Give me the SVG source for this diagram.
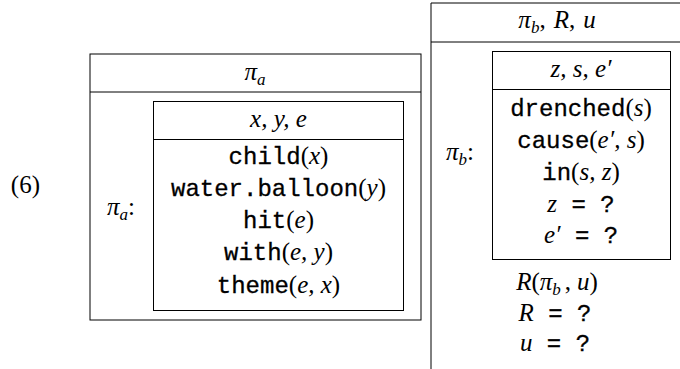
<svg xmlns="http://www.w3.org/2000/svg" width="680" height="369" viewBox="0 0 680 369">
<style>
.outer{fill:none;stroke:#000;stroke-width:1}
.inner{fill:none;stroke:#000;stroke-width:1}
text{font-family:"Liberation Serif",serif;font-size:25px;fill:#000}
.c{text-anchor:middle}
.i{font-style:italic}
.m{font-family:"Liberation Mono",monospace;font-size:24px;stroke:#000;stroke-width:0.3}
.s{font-size:17px;font-style:italic}
</style>
<rect width="680" height="369" fill="#fff"/>
<g id="label">
<text x="40" y="193" text-anchor="end">(6)</text>
</g>
<g id="drs-a">
<rect class="outer" x="90" y="54" width="331" height="266"/>
<line class="outer" x1="90" y1="92" x2="421" y2="92"/>
<text class="c" x="255" y="80"><tspan class="i">π</tspan><tspan class="s" dy="5">a</tspan></text>
<text x="107" y="215"><tspan class="i">π</tspan><tspan class="s" dy="5">a</tspan><tspan dy="-5">:</tspan></text>
</g>
<g id="drs-a-inner">
<rect class="inner" x="153.5" y="101.5" width="250" height="209"/>
<line class="inner" x1="153.5" y1="139.5" x2="403.5" y2="139.5"/>
<text class="c i" x="278.5" y="127">x, y, e</text>
<text class="c" x="278.5" y="164"><tspan class="m">child</tspan>(<tspan class="i">x</tspan>)</text>
<text class="c" x="278.5" y="196"><tspan class="m">water.balloon</tspan>(<tspan class="i">y</tspan>)</text>
<text class="c" x="278.5" y="228"><tspan class="m">hit</tspan>(<tspan class="i">e</tspan>)</text>
<text class="c" x="278.5" y="260"><tspan class="m">with</tspan>(<tspan class="i">e, y</tspan>)</text>
<text class="c" x="278.5" y="293"><tspan class="m">theme</tspan>(<tspan class="i">e, x</tspan>)</text>
</g>
<g id="drs-b">
<path class="outer" d="M690,3 H431 V380"/>
<line class="outer" x1="431" y1="42" x2="690" y2="42"/>
<text class="c" x="557" y="28"><tspan class="i">π</tspan><tspan class="s" dy="5">b</tspan><tspan dy="-5">,</tspan><tspan class="i" dx="8">R</tspan>,<tspan class="i" dx="8">u</tspan></text>
<text x="446" y="160"><tspan class="i">π</tspan><tspan class="s" dy="5">b</tspan><tspan dy="-5">:</tspan></text>
<text class="c" x="557" y="290"><tspan class="i">R</tspan>(<tspan class="i">π</tspan><tspan class="s" dy="5">b</tspan><tspan dy="-5" dx="4">,</tspan><tspan class="i" dx="6">u</tspan>)</text>
<text class="c" x="555" y="321"><tspan class="i">R</tspan><tspan class="m"> = ?</tspan></text>
<text class="c" x="555" y="351"><tspan class="i">u</tspan><tspan class="m"> = ?</tspan></text>
</g>
<g id="drs-b-inner">
<rect class="inner" x="492.5" y="51.5" width="178" height="208"/>
<line class="inner" x1="492.5" y1="89.5" x2="670.5" y2="89.5"/>
<text class="c i" x="581" y="77">z, s, e′</text>
<text class="c" x="581" y="116"><tspan class="m">drenched</tspan>(<tspan class="i">s</tspan>)</text>
<text class="c" x="581" y="148"><tspan class="m">cause</tspan>(<tspan class="i">e′, s</tspan>)</text>
<text class="c" x="581" y="180"><tspan class="m">in</tspan>(<tspan class="i">s, z</tspan>)</text>
<text class="c" x="581" y="212"><tspan class="i">z</tspan><tspan class="m"> = ?</tspan></text>
<text class="c" x="581" y="243"><tspan class="i">e′</tspan><tspan class="m"> = ?</tspan></text>
</g>
<g id="connectors"/>
</svg>
